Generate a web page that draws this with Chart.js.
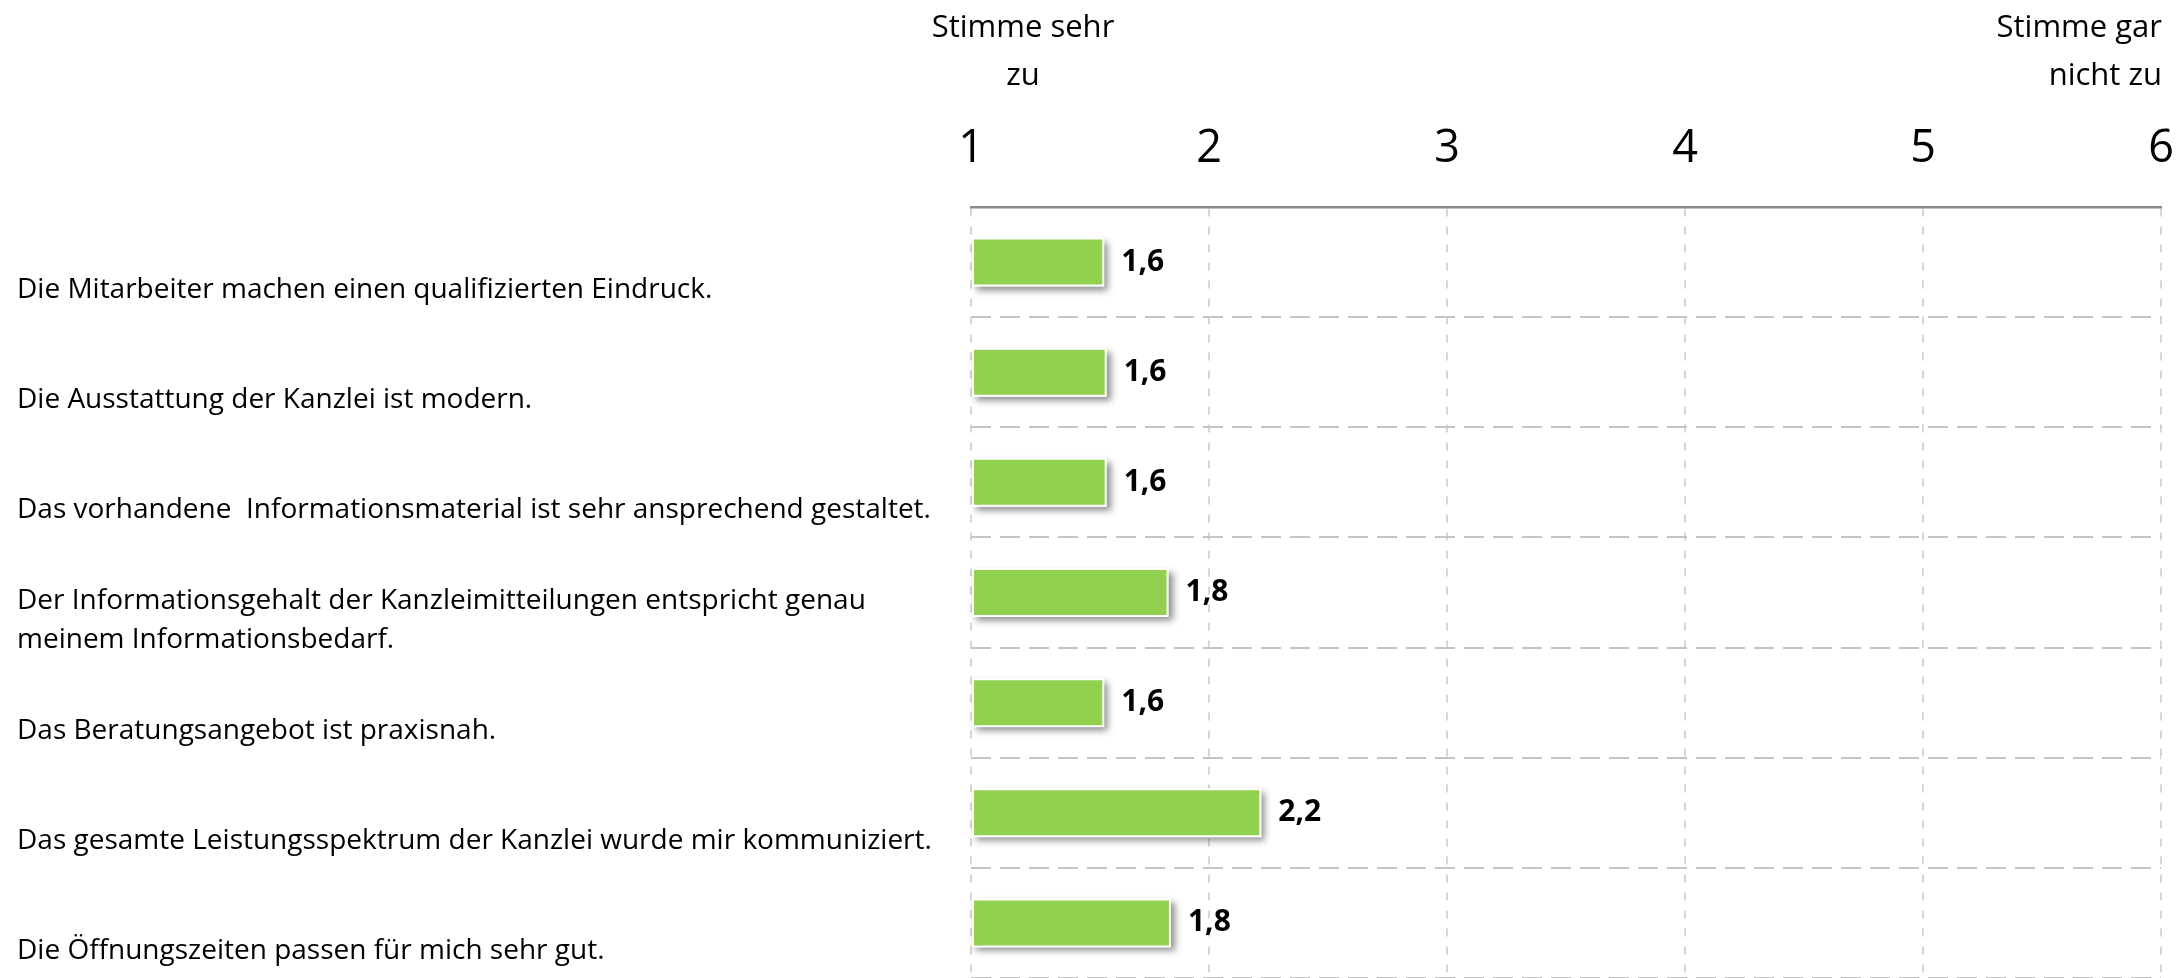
<!DOCTYPE html>
<html>
<head>
<meta charset="utf-8">
<script src="https://cdn.jsdelivr.net/npm/chart.js@4/dist/chart.umd.min.js"></script>
<style>
  html, body { margin: 0; padding: 0; background: #ffffff; }
  #wrap { width: 2179px; height: 978px; }
</style>
</head>
<body>
<div id="wrap"><canvas id="c" width="2179" height="978"></canvas></div>
<script>
// ---- data ----
const categories = [
  "Die Mitarbeiter machen einen qualifizierten Eindruck.",
  "Die Ausstattung der Kanzlei ist modern.",
  "Das vorhandene  Informationsmaterial ist sehr ansprechend gestaltet.",
  ["Der Informationsgehalt der Kanzleimitteilungen entspricht genau", "meinem Informationsbedarf."],
  "Das Beratungsangebot ist praxisnah.",
  "Das gesamte Leistungsspektrum der Kanzlei wurde mir kommuniziert.",
  "Die Öffnungszeiten passen für mich sehr gut."
];
const meanScores = [1.56, 1.57, 1.57, 1.83, 1.56, 2.22, 1.84];
const valueLabels = ["1,6", "1,6", "1,6", "1,8", "1,6", "2,2", "1,8"];
const scaleTicks = [1, 2, 3, 4, 5, 6];
const leftEndLabel = ["Stimme sehr", "zu"];
const rightEndLabel = ["Stimme gar", "nicht zu"];

const FONT = "'Open Sans', 'Liberation Sans', sans-serif";

const barShadow = {
  id: 'barShadow',
  beforeDatasetsDraw(chart) {
    const ctx = chart.ctx;
    const meta = chart.getDatasetMeta(0);
    meta.data.forEach(el => {
      const p = el.getProps(['x', 'y', 'base', 'height'], true);
      ctx.save();
      ctx.shadowColor = 'rgba(0,0,0,0.45)';
      ctx.shadowBlur = 7;
      ctx.shadowOffsetX = 4;
      ctx.shadowOffsetY = 4;
      ctx.fillStyle = '#ffffff';
      ctx.fillRect(p.base, p.y - p.height / 2, p.x - p.base, p.height);
      ctx.restore();
    });
  }
};

const valueText = {
  id: 'valueText',
  afterDatasetsDraw(chart) {
    const ctx = chart.ctx;
    const meta = chart.getDatasetMeta(0);
    ctx.save();
    ctx.font = "bold 30px " + FONT;
    ctx.fillStyle = '#000000';
    ctx.textAlign = 'left';
    ctx.textBaseline = 'middle';
    meta.data.forEach((el, i) => {
      const p = el.getProps(['x', 'y'], true);
      ctx.fillText(valueLabels[i], p.x + 17, p.y);
    });
    ctx.restore();
  }
};

const endLabels = {
  id: 'endLabels',
  afterDraw(chart) {
    const ctx = chart.ctx;
    const xs = chart.scales.x;
    ctx.save();
    ctx.font = "31px " + FONT;
    ctx.fillStyle = '#000000';
    ctx.textBaseline = 'alphabetic';
    const lx = xs.getPixelForValue(scaleTicks[0]) + 52;
    ctx.textAlign = 'center';
    ctx.fillText(leftEndLabel[0], lx, 37);
    ctx.fillText(leftEndLabel[1], lx, 85);
    const rx = xs.getPixelForValue(scaleTicks[scaleTicks.length - 1]) + 1;
    ctx.textAlign = 'right';
    ctx.fillText(rightEndLabel[0], rx, 37);
    ctx.fillText(rightEndLabel[1], rx, 85);
    ctx.restore();
  }
};

new Chart(document.getElementById('c'), {
  type: 'bar',
  data: {
    labels: categories,
    datasets: [{
      data: meanScores,
      base: scaleTicks[0],
      backgroundColor: '#92D050',
      borderColor: '#ffffff',
      borderWidth: 2,
      borderSkipped: false,
      barPercentage: 0.445,
      categoryPercentage: 1.0
    }]
  },
  options: {
    indexAxis: 'y',
    responsive: false,
    devicePixelRatio: 1,
    animation: false,
    layout: { padding: { left: 17, right: 18, top: 0, bottom: 0 } },
    plugins: { legend: { display: false }, tooltip: { enabled: false }, title: { display: false } },
    scales: {
      x: {
        type: 'linear',
        position: 'top',
        min: scaleTicks[0],
        max: scaleTicks[scaleTicks.length - 1],
        afterFit(scale) { scale.height = 207; scale.paddingLeft = 0; scale.paddingRight = 0; },
        ticks: {
          stepSize: 1,
          color: '#000000',
          padding: 31,
          maxRotation: 0,
          font: { family: FONT, size: 45 },
          callback: (v) => String(v)
        },
        grid: { color: '#D6D6D6', lineWidth: 2, drawTicks: false },
        border: { display: true, color: '#8A8A8A', width: 2.5, dash: [8, 10] }
      },
      y: {
        type: 'category',
        afterFit(scale) { scale.width = 954; scale.paddingTop = 0; scale.paddingBottom = 0; },
        ticks: {
          color: '#000000',
          crossAlign: 'far',
          padding: 0,
          labelOffset: 28,
          autoSkip: false,
          font: { family: FONT, size: 28, lineHeight: 1.42 }
        },
        grid: { offset: true, color: '#C4C4C4', lineWidth: 2, drawTicks: false },
        border: { display: false, dash: [20, 9] }
      }
    }
  },
  plugins: [barShadow, valueText, endLabels]
});
</script>
</body>
</html>
